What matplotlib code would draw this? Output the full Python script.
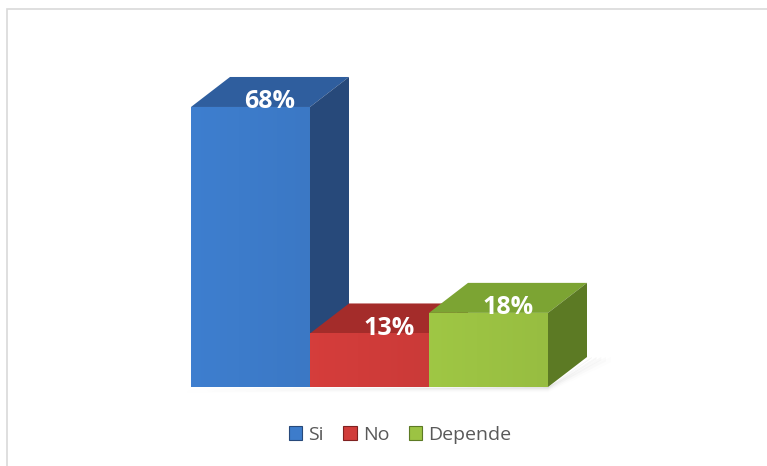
import matplotlib
matplotlib.use("Agg")
import matplotlib.pyplot as plt
from matplotlib.patches import Polygon, Rectangle, Patch
import numpy as np

categories = ["Si", "No", "Depende"]
values = [68, 13, 18]
labels = ["68%", "13%", "18%"]

front_colors = ["#3D7CCB", "#D13C3A", "#9CC343"]
top_colors = ["#2F5E9E", "#A42C2A", "#7CA433"]
side_colors = ["#27497A", "#7F2120", "#5C7A24"]

W, H = 767, 466
fig = plt.figure(figsize=(W / 100, H / 100), dpi=100)
fig.patch.set_facecolor("white")

# outer frame
fig.patches.append(Rectangle((7 / W, -0.05), 1.1, 1 - 9 / H + 0.05, transform=fig.transFigure,
                             fill=False, edgecolor="#D9D9D9", linewidth=1.2))

ax = fig.add_axes([0, 0, 1, 1])
ax.set_axis_off()
px_per_x = 119.0
px_per_y = 4.118
x0_px = 191.0
base_px = 466 - 387
ax.set_xlim(-0.5 - x0_px / px_per_x, -0.5 + (W - x0_px) / px_per_x)
ax.set_ylim(-base_px / px_per_y, (H - base_px) / px_per_y)

dx = 39 / px_per_x
dy = 30 / px_per_y
bw = 1.0

# soft floor shadow
for k, a in enumerate(np.linspace(0.08, 0.015, 5)):
    off = 0.02 * (k + 1)
    ax.add_patch(Polygon([(-0.5 - off, -0.3 - k * 0.25), (2.5, -0.3 - k * 0.25),
                          (2.5 + dx + off * 2, dy - 0.3 - k * 0.25),
                          (2.5 + dx + off * 2, dy), (2.5, 0)],
                         closed=True, facecolor="#808080", edgecolor="none", alpha=a, zorder=1))

for i, (cat, v) in enumerate(zip(categories, values)):
    xl = i - bw / 2
    xr = i + bw / 2
    z = 2 + i * 3
    # top face
    ax.add_patch(Polygon([(xl, v), (xr, v), (xr + dx, v + dy), (xl + dx, v + dy)],
                         closed=True, facecolor=top_colors[i], edgecolor="none", zorder=z))
    # side face
    ax.add_patch(Polygon([(xr, 0), (xr + dx, dy), (xr + dx, v + dy), (xr, v)],
                         closed=True, facecolor=side_colors[i], edgecolor="none", zorder=z))
    # front face with slight gradient
    grad = np.linspace(0, 1, 64).reshape(1, -1)
    base = np.array(matplotlib.colors.to_rgb(front_colors[i]))
    img = np.zeros((1, 64, 3))
    for c in range(3):
        img[0, :, c] = np.clip(base[c] * (1.02 - 0.05 * grad[0]), 0, 1)
    front = Polygon([(xl, 0), (xr, 0), (xr, v), (xl, v)], closed=True,
                    facecolor=front_colors[i], edgecolor="none", zorder=z + 1)
    ax.add_patch(front)
    im = ax.imshow(img, extent=(xl, xr, 0, v), aspect="auto", zorder=z + 1.5,
                   interpolation="bilinear")
    im.set_clip_path(front)
    ax.text(i + dx * 0.5, v + 1.3, labels[i], ha="center", va="center", color="white",
            fontsize=18, fontweight="bold", family="Open Sans", zorder=20)

handles = [Patch(facecolor=front_colors[i], edgecolor=side_colors[i], linewidth=0.8, label=categories[i])
           for i in range(3)]
fig.legend(handles=handles, loc="center", bbox_to_anchor=(400 / W, 1 - 435 / H), ncol=3,
           frameon=False, prop={"family": "Open Sans", "size": 14},
           handlelength=0.7, handleheight=0.7, handletextpad=0.3, columnspacing=1.0,
           labelcolor="#595959")

fig.savefig("out.png", dpi=100, facecolor="white")
